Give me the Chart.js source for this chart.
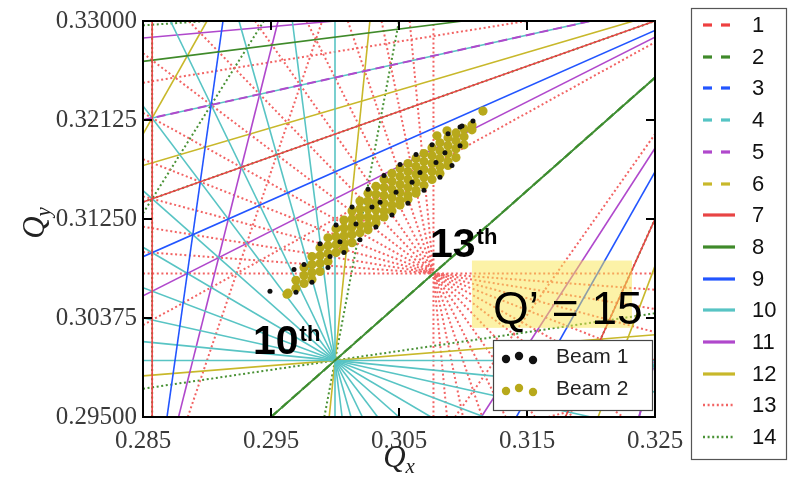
<!DOCTYPE html>
<html><head><meta charset="utf-8">
<script src="https://cdn.jsdelivr.net/npm/chart.js@4/dist/chart.umd.min.js"></script>
<style>html,body{margin:0;padding:0;background:#fff;}#wrap{width:788px;height:481px;position:relative;}</style>
</head><body><div id="wrap"><canvas id="c" width="788" height="481"></canvas></div>
<script>
// ---------- data ----------
const xRange = [0.285, 0.325];
const yRange = [0.295, 0.330];
const xTicks = [0.285, 0.295, 0.305, 0.315, 0.325];
const yTicks = [0.29500, 0.30375, 0.31250, 0.32125, 0.33000];
const resonanceOrders = [1, 2, 3, 4, 5, 6, 7, 8, 9, 10, 11, 12, 13, 14];
const orderColors = ['#ee4040', '#3f8a2a', '#2255ff', '#55c4c4', '#b048cc', '#c8b82a',
                     '#e84444', '#3f8a2a', '#2255ff', '#58c4c4', '#b048cc', '#c8b82a',
                     '#f26464', '#4a9236'];
const orderStyles = ['dash','dash','dash','dash','dash','dash',
                     'solid','solid','solid','solid','solid','solid',
                     'dot','dot'];
const beamLabels = ['Beam 1', 'Beam 2'];
// Beam 1 (black) tune footprint, [Qx, Qy]
const beam1 = [
 [0.29758,0.30848],[0.29883,0.31031],[0.30008,0.31198],[0.30133,0.31355],[0.30258,0.31513],
 [0.30383,0.31635],[0.30508,0.31731],[0.30633,0.31819],[0.30758,0.31906],[0.30883,0.32003],
 [0.30977,0.32064],
 [0.29695,0.30603],[0.29820,0.30690],[0.29945,0.30821],[0.30070,0.30953],[0.30195,0.31066],
 [0.30320,0.31180],[0.30445,0.31285],[0.30570,0.31390],[0.30695,0.31504],[0.30820,0.31618],
 [0.30914,0.31723],
 [0.30039,0.31049],[0.30164,0.31206],[0.30289,0.31355],[0.30477,0.31486],[0.30664,0.31661],
 [0.30789,0.31749],[0.30602,0.31574],[0.29961,0.30918],[0.30859,0.31836],[0.30352,0.31399],
 [0.29492,0.30611],[0.30992,0.32073],[0.31078,0.32116],[0.29680,0.30804],[0.30977,0.31898]
];
// Beam 2 (olive) tune footprint, [Qx, Qy]
const beam2 = [
 [0.29625,0.30585],[0.29633,0.30594],
 [0.29695,0.30708],[0.29695,0.30638],
 [0.29758,0.30821],[0.29758,0.30751],[0.29758,0.30681],
 [0.29820,0.30918],[0.29820,0.30848],[0.29820,0.30778],[0.29820,0.30716],
 [0.29883,0.30996],[0.29883,0.30926],[0.29883,0.30856],[0.29883,0.30786],
 [0.29945,0.31084],[0.29945,0.31014],[0.29945,0.30944],[0.29945,0.30874],
 [0.30008,0.31163],[0.30008,0.31093],[0.30008,0.31023],[0.30008,0.30953],
 [0.30070,0.31241],[0.30070,0.31171],[0.30070,0.31101],[0.30070,0.31031],[0.30070,0.30979],
 [0.30133,0.31320],[0.30133,0.31250],[0.30133,0.31180],[0.30133,0.31110],[0.30133,0.31040],
 [0.30195,0.31408],[0.30195,0.31338],[0.30195,0.31268],[0.30195,0.31198],[0.30195,0.31128],
 [0.30258,0.31478],[0.30258,0.31408],[0.30258,0.31338],[0.30258,0.31268],[0.30258,0.31198],[0.30258,0.31154],
 [0.30320,0.31539],[0.30320,0.31469],[0.30320,0.31399],[0.30320,0.31329],[0.30320,0.31259],[0.30320,0.31215],
 [0.30383,0.31600],[0.30383,0.31530],[0.30383,0.31460],[0.30383,0.31390],[0.30383,0.31320],[0.30383,0.31268],
 [0.30445,0.31653],[0.30445,0.31583],[0.30445,0.31513],[0.30445,0.31443],[0.30445,0.31373],[0.30445,0.31320],
 [0.30508,0.31696],[0.30508,0.31626],[0.30508,0.31556],[0.30508,0.31486],[0.30508,0.31416],[0.30508,0.31373],
 [0.30570,0.31740],[0.30570,0.31670],[0.30570,0.31600],[0.30570,0.31530],[0.30570,0.31460],[0.30570,0.31425],
 [0.30633,0.31784],[0.30633,0.31714],[0.30633,0.31644],[0.30633,0.31574],[0.30633,0.31504],[0.30633,0.31478],
 [0.30695,0.31828],[0.30695,0.31758],[0.30695,0.31688],[0.30695,0.31618],[0.30695,0.31548],
 [0.30758,0.31880],[0.30758,0.31810],[0.30758,0.31740],[0.30758,0.31670],[0.30758,0.31600],
 [0.30820,0.31924],[0.30820,0.31854],[0.30820,0.31784],[0.30820,0.31714],[0.30820,0.31653],
 [0.30883,0.31968],[0.30883,0.31898],[0.30883,0.31828],[0.30883,0.31758],[0.30883,0.31723],
 [0.30945,0.32011],[0.30945,0.31941],[0.30945,0.31871],[0.30945,0.31793],
 [0.31008,0.32046],[0.31008,0.31976],[0.31008,0.31906],
 [0.31070,0.32081],[0.31070,0.32038],
 [0.31156,0.32204],[0.30797,0.31985],[0.30875,0.32029]
];
const annotations = [
  {big: '10', sup: 'th', qx: 0.29359, qy: 0.30060},
  {big: '13', sup: 'th', qx: 0.30742, qy: 0.30918}
];
const chromLabel = 'Q\u2019 = 15';
const chromLabelPos = [0.31234, 0.30323];
const highlightBox = {qx0: 0.31070, qx1: 0.32320, qy0: 0.30288, qy1: 0.30883};

// ---------- resonance lines m*Qx + n*Qy = p ----------
function resonanceSegments(order) {
  const segs = [];
  const [x0, x1] = xRange, [y0, y1] = yRange;
  for (let m = -order; m <= order; m++) {
    const n = order - Math.abs(m);
    if (n === 0 && m <= 0) continue;
    const vals = [m*x0+n*y0, m*x0+n*y1, m*x1+n*y0, m*x1+n*y1];
    const lo = Math.min(...vals), hi = Math.max(...vals);
    for (let p = Math.ceil(lo - 1e-12); p <= Math.floor(hi + 1e-12); p++) {
      const pts = [];
      if (n !== 0) {
        for (const x of [x0, x1]) { const y = (p - m*x)/n; if (y >= y0-1e-12 && y <= y1+1e-12) pts.push({x, y}); }
      }
      if (m !== 0) {
        for (const y of [y0, y1]) { const x = (p - n*y)/m; if (x >= x0-1e-12 && x <= x1+1e-12) pts.push({x, y}); }
      }
      if (pts.length < 2) continue;
      pts.sort((a, b) => a.x - b.x || a.y - b.y);
      const a = pts[0], b = pts[pts.length-1];
      if (Math.abs(a.x-b.x) < 1e-9 && Math.abs(a.y-b.y) < 1e-9) continue;
      segs.push([a, b]);
    }
  }
  return segs;
}
const dashFor = s => s === 'dash' ? [9, 5] : s === 'dot' ? [2, 2.6] : [];
const widthFor = s => s === 'dot' ? 2 : s === 'dash' ? 2 : 1.6;

const datasets = [];
datasets.push({label: beamLabels[0], data: beam1.map(p => ({x:p[0], y:p[1]})), backgroundColor:'#111111', borderWidth:0, pointRadius:2.5, showLine:false});
datasets.push({label: beamLabels[1], data: beam2.map(p => ({x:p[0], y:p[1]})), backgroundColor:'#b8a91b', borderWidth:0, pointRadius:4.6, showLine:false});
resonanceOrders.forEach((ord, i) => {
  resonanceSegments(ord).forEach(seg => {
    datasets.push({label: String(ord), data: seg, showLine: true, pointRadius: 0,
      borderColor: orderColors[i], borderWidth: widthFor(orderStyles[i]),
      borderDash: dashFor(orderStyles[i]), borderCapStyle: 'butt', fill: false});
  });
});

// ---------- decorations ----------
const deco = {
  id: 'deco',
  afterDatasetsDraw(chart) {
    const ctx = chart.ctx, ca = chart.chartArea, xs = chart.scales.x, ys = chart.scales.y;
    ctx.save();
    // highlight box
    const hx0 = xs.getPixelForValue(highlightBox.qx0), hx1 = xs.getPixelForValue(highlightBox.qx1);
    const hy0 = ys.getPixelForValue(highlightBox.qy1), hy1 = ys.getPixelForValue(highlightBox.qy0);
    ctx.fillStyle = 'rgba(250,230,80,0.5)';
    ctx.fillRect(hx0, hy0, hx1 - hx0, hy1 - hy0);
    // frame
    ctx.strokeStyle = '#000'; ctx.lineWidth = 2; ctx.setLineDash([]);
    ctx.strokeRect(ca.left, ca.top, ca.right-ca.left, ca.bottom-ca.top);
    ctx.beginPath();
    xTicks.forEach(v => { const x = xs.getPixelForValue(v);
      ctx.moveTo(x, ca.bottom); ctx.lineTo(x, ca.bottom-9);
      ctx.moveTo(x, ca.top); ctx.lineTo(x, ca.top+9); });
    yTicks.forEach(v => { const y = ys.getPixelForValue(v);
      ctx.moveTo(ca.left, y); ctx.lineTo(ca.left+9, y);
      ctx.moveTo(ca.right, y); ctx.lineTo(ca.right-9, y); });
    ctx.stroke();
    // annotations
    ctx.fillStyle = '#000'; ctx.textBaseline = 'alphabetic'; ctx.textAlign = 'left';
    annotations.forEach(a => {
      const x = xs.getPixelForValue(a.qx), y = ys.getPixelForValue(a.qy);
      ctx.font = 'bold 41px "Liberation Sans"';
      ctx.fillText(a.big, x, y);
      const w = ctx.measureText(a.big).width;
      ctx.font = 'bold 22px "Liberation Sans"';
      ctx.fillText(a.sup, x + w + 1, y - 13);
    });
    ctx.font = '46px "Liberation Sans"';
    ctx.fillText(chromLabel, xs.getPixelForValue(chromLabelPos[0]), ys.getPixelForValue(chromLabelPos[1]));
    // beam legend
    const bx = 493, by = 340, bw = 159, bh = 70;
    ctx.fillStyle = '#fff'; ctx.fillRect(bx, by, bw, bh);
    ctx.strokeStyle = '#444'; ctx.lineWidth = 1.2; ctx.strokeRect(bx+0.5, by+0.5, bw, bh);
    const mcols = ['#111111', '#b8a91b'];
    const offs = [[506, 2], [519, -1], [533, 3]];
    beamLabels.forEach((lab, i) => {
      const cy = 357 + i*32;
      ctx.fillStyle = mcols[i];
      offs.forEach(o => { ctx.beginPath(); ctx.arc(o[0], cy + o[1], 4.2, 0, Math.PI*2); ctx.fill(); });
      ctx.fillStyle = '#222'; ctx.font = '21px "Liberation Sans"'; ctx.textBaseline = 'middle';
      ctx.fillText(lab, 556, cy);
    });
    ctx.restore();
  },
  afterDraw(chart) {
    const ctx = chart.ctx, ca = chart.chartArea;
    ctx.save();
    // right legend
    ctx.strokeStyle = '#555'; ctx.lineWidth = 1.2; ctx.setLineDash([]);
    ctx.strokeRect(691.5, 8.5, 95, 451);
    resonanceOrders.forEach((ord, i) => {
      const y = Math.round(25 + i*31.7);
      ctx.strokeStyle = orderColors[i];
      const st = orderStyles[i];
      ctx.lineWidth = st === 'dot' ? 2.4 : 3.2;
      ctx.setLineDash(st === 'dash' ? [9, 9] : st === 'dot' ? [2, 2.6] : []);
      ctx.lineCap = 'butt';
      ctx.beginPath(); ctx.moveTo(703, y); ctx.lineTo(735, y); ctx.stroke();
      ctx.setLineDash([]);
      ctx.fillStyle = '#111'; ctx.font = '22px "Liberation Sans"'; ctx.textBaseline = 'middle'; ctx.textAlign = 'left';
      ctx.fillText(String(ord), 752, y + 1);
    });
    // axis titles
    ctx.fillStyle = '#222'; ctx.textBaseline = 'alphabetic'; ctx.textAlign = 'left';
    const drawQ = (sub, cx, base) => {
      ctx.font = 'italic 31px "Liberation Serif"';
      const w1 = ctx.measureText('Q').width;
      ctx.font = 'italic 21px "Liberation Serif"';
      const w2 = ctx.measureText(sub).width;
      const x0 = cx - (w1 + w2) / 2;
      ctx.font = 'italic 31px "Liberation Serif"'; ctx.fillText('Q', x0, base);
      ctx.font = 'italic 21px "Liberation Serif"'; ctx.fillText(sub, x0 + w1, base + 6);
    };
    drawQ('x', (ca.left + ca.right) / 2, 467);
    ctx.save(); ctx.translate(44, (ca.top + ca.bottom) / 2 + 4); ctx.rotate(-Math.PI / 2);
    drawQ('y', 0, 0); ctx.restore();
    ctx.restore();
  }
};

const tickFont = {family: 'Liberation Serif', size: 25};
new Chart(document.getElementById('c'), {
  type: 'scatter',
  data: {datasets},
  options: {
    responsive: false, animation: false, events: [],
    layout: {padding: {left: 0, right: 133, top: 18, bottom: 0}},
    plugins: {legend: {display: false}, tooltip: {enabled: false}},
    scales: {
      x: {type: 'linear', min: xRange[0], max: xRange[1],
          afterBuildTicks: s => { s.ticks = xTicks.map(v => ({value: v})); },
          afterFit: s => { s.height = 64; },
          grid: {display: false, drawTicks: false}, border: {display: false},
          ticks: {font: tickFont, color: '#3a3a3a', padding: 9, maxRotation: 0, autoSkip: false,
                  callback: v => Number(v).toFixed(3)}},
      y: {type: 'linear', min: yRange[0], max: yRange[1],
          afterBuildTicks: s => { s.ticks = yTicks.map(v => ({value: v})); },
          afterFit: s => { s.width = 143; },
          grid: {display: false, drawTicks: false}, border: {display: false},
          ticks: {font: tickFont, color: '#3a3a3a', padding: 6, autoSkip: false,
                  callback: v => Number(v).toFixed(5)}}
    }
  },
  plugins: [deco]
});
</script></body></html>
